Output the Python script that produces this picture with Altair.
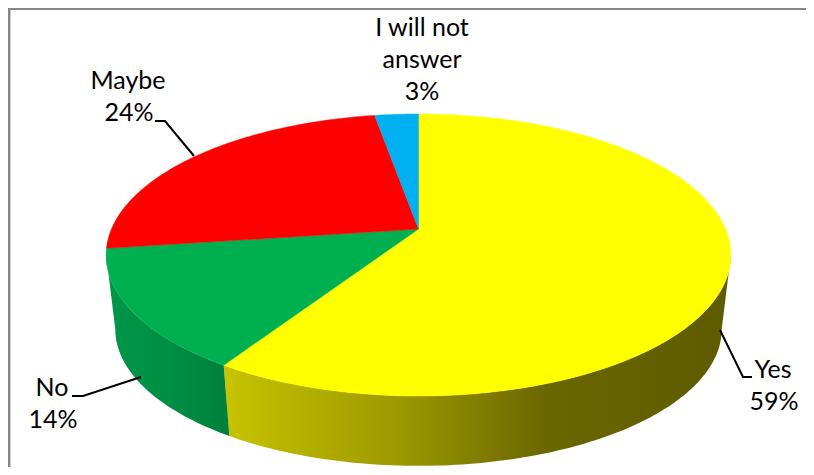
import math
import altair as alt
import pandas as pd

# --- values ---
categories = ["Yes", "No", "Maybe", "I will not answer"]
shares = [59.0, 13.8, 24.5, 2.7]
colors = ["#FFFF00", "#00B050", "#FF0000", "#00B0F0"]

label_lines = [
    ["Yes", "59%"],
    ["No", "14%"],
    ["Maybe", "24%"],
    ["I will not", "answer", "3%"],
]

# --- layout (screen-like units for the shared linear scales) ---
CX = 418.5
TOP = dict(cy=229.0, a=307.0, b=136.2)
BOTTOM = dict(cy=304.0, a=298.0, b=132.0)
K = 0.1844  # perspective strength
STEPS = 1.0  # degrees per sampled rim point
FONT = "Lato"
FONT_SIZE = 25

label_pos = [
    [(773, 370), (774, 402)],
    [(52, 388), (53, 420)],
    [(128, 81), (129, 113)],
    [(422, 28), (422, 60), (422, 92)],
]
leaders = [
    [(720, 330), (743, 377), (752, 377)],
    [(141, 377), (83, 396), (72, 396)],
    [(194, 156), (165, 121), (155, 121)],
]
wall_fills = {
    "Yes": [("#c8c400", 0.0), ("#9c9800", 0.35), ("#6a6600", 0.64), ("#5e5b00", 1.0)],
    "No": [("#009648", 0.0), ("#008f44", 0.5), ("#00803a", 1.0)],
}


def rim(theta_deg, plane):
    t = math.radians(theta_deg)
    u, v = math.sin(t), math.cos(t)
    d = 1 + K * v
    return CX + plane["a"] * u / d, plane["cy"] - plane["b"] * v / d


def arc_points(t0, t1):
    n = max(2, int(abs(t1 - t0) / STEPS) + 1)
    return [t0 + (t1 - t0) * i / (n - 1) for i in range(n)]


X = alt.X("x:Q", scale=alt.Scale(domain=[8, 806], nice=False, zero=False), axis=None)
Y = alt.Y("y:Q", scale=alt.Scale(domain=[467, 8], nice=False, zero=False), axis=None)


def polygon(points, **mark):
    df = pd.DataFrame(points, columns=["x", "y"])
    df["i"] = range(len(df))
    return alt.Chart(df).mark_line(**mark).encode(x=X, y=Y, order=alt.Order("i:Q"))


total = sum(shares)
bounds = [0.0]
for s in shares:
    bounds.append(bounds[-1] + s / total * 360)

# silhouette angles of the rim
sil_r = math.degrees(math.acos(-K))
sil_l = 360 - sil_r

layers = []

# frame
layers.append(polygon([(9.2, 467), (9.2, 8.8), (806, 8.8)], stroke="#868686", strokeWidth=2.4))

# side walls
for cat, t0, t1 in [("Yes", sil_r, bounds[1]), ("No", bounds[1], sil_l)]:
    pts = [rim(t, TOP) for t in arc_points(t0, t1)] + [rim(t, BOTTOM) for t in arc_points(t1, t0)]
    pts.append(pts[0])
    stops = [alt.GradientStop(color=c, offset=o) for c, o in wall_fills[cat]]
    layers.append(polygon(pts, fill=alt.Gradient(gradient="linear", stops=stops, x1=0, x2=1, y1=0, y2=0),
                          strokeWidth=0, strokeOpacity=0))

# top surface
for i, col in enumerate(colors):
    pts = [(CX, TOP["cy"])] + [rim(t, TOP) for t in arc_points(bounds[i], bounds[i + 1])] + [(CX, TOP["cy"])]
    layers.append(polygon(pts, fill=col, stroke=col, strokeWidth=0.5))

# leader lines
for pts in leaders:
    layers.append(polygon(pts, stroke="#000000", strokeWidth=2))

# labels
rows = []
for lines, pos in zip(label_lines, label_pos):
    for text, (x, y) in zip(lines, pos):
        rows.append({"x": x, "y": y, "t": text})
layers.append(
    alt.Chart(pd.DataFrame(rows))
    .mark_text(font=FONT, fontSize=FONT_SIZE, color="#000000", align="center", baseline="middle")
    .encode(x=X, y=Y, text="t:N")
)

chart = (
    alt.layer(*layers)
    .properties(width=798, height=459, padding=0, background="#ffffff",
                autosize=alt.AutoSizeParams(type="none"))
    .configure_view(stroke=None)
)
chart.save("out.html", embed_options={"renderer": "svg", "actions": False})
